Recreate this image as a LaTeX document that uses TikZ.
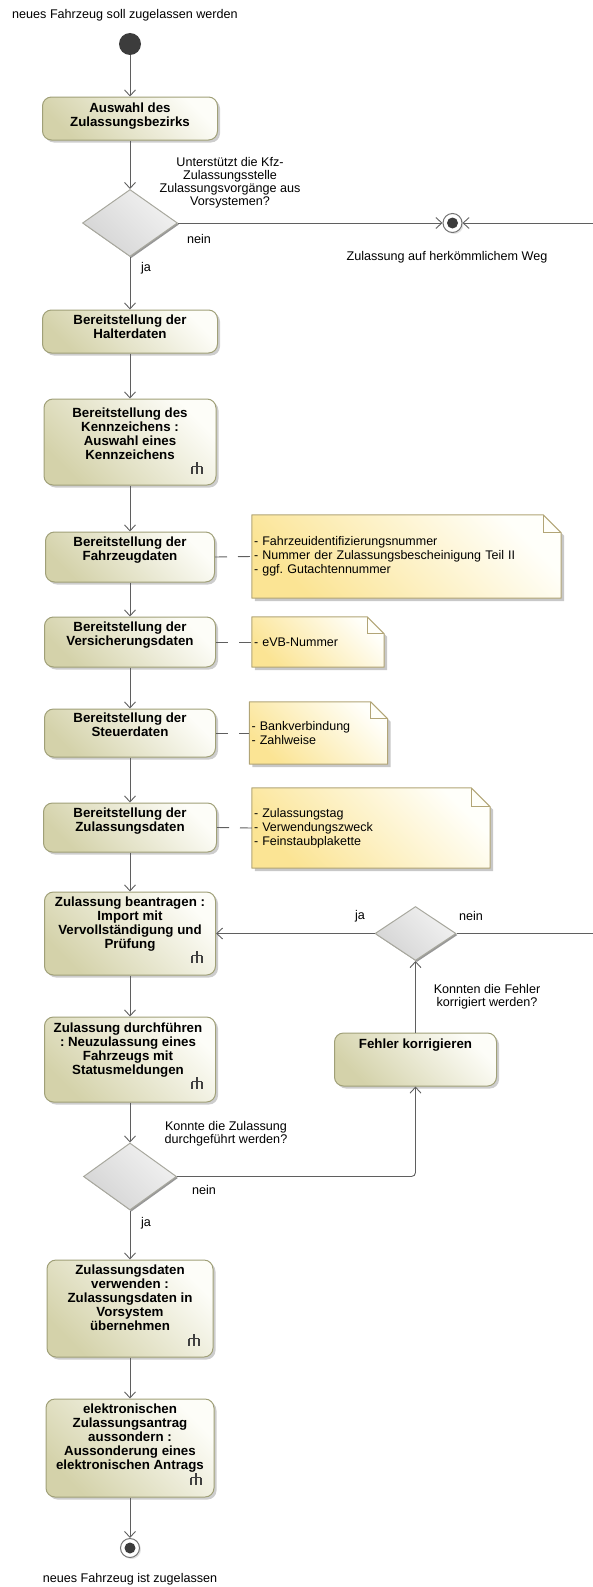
\documentclass[tikz,border=0pt]{standalone}
\usepackage{fontspec}
\setmainfont{Liberation Sans}
\usetikzlibrary{arrows.meta,shapes.geometric,shadows,backgrounds,calc}
\frenchspacing

\definecolor{actdark}{RGB}{212,210,170}
\definecolor{actlight}{RGB}{253,253,248}
\definecolor{actborder}{RGB}{160,160,120}
\definecolor{notedark}{RGB}{251,228,148}
\definecolor{notelight}{RGB}{255,255,250}
\definecolor{noteborder}{RGB}{178,165,118}
\definecolor{decdark}{RGB}{212,212,212}
\definecolor{declight}{RGB}{242,242,242}
\definecolor{decborder}{RGB}{168,168,158}
\definecolor{flow}{RGB}{95,95,95}
\definecolor{shadowgray}{RGB}{200,200,200}
\definecolor{dotdark}{RGB}{60,60,60}

\tikzset{
  act/.style={draw=actborder, line width=1pt, rounded corners=9pt, inner sep=0pt,
    top color=actlight, bottom color=actdark, shading angle=-45,
    drop shadow={shadow xshift=2.5pt, shadow yshift=-2.5pt, fill=shadowgray, opacity=0.9}},
  acttxt/.style={font=\fontsize{13.3}{14}\selectfont\bfseries, align=center, inner sep=0pt, anchor=north},
  lbl/.style={font=\fontsize{12.6}{13}\selectfont, inner sep=0pt, align=center},
  notebox/.style={font=\fontsize{12.5}{14}\selectfont, align=left, inner xsep=2pt, inner ysep=0pt},
  dec/.style={diamond, draw=decborder, line width=1pt, inner sep=0pt,
    top color=declight, bottom color=decdark, shading angle=-45,
    drop shadow={shadow xshift=1.5pt, shadow yshift=-1.5pt, fill=black!45, opacity=0.9}},
  startnode/.style={circle, fill=dotdark, minimum size=22pt, inner sep=0pt},
  finalnode/.style={circle, draw=black!55, fill=white, line width=1pt, minimum size=19pt, inner sep=0pt,
    drop shadow={shadow xshift=1.5pt, shadow yshift=-1.5pt, fill=shadowgray},
    path picture={\fill[dotdark] (path picture bounding box.center) circle (5.5pt);}},
  flowarrow/.style={draw=flow, line width=0.9pt, -{Straight Barb[length=6pt,width=11pt]}},
  flowline/.style={draw=flow, line width=0.9pt},
  noteline/.style={draw=flow, line width=0.9pt, dash pattern=on 12pt off 11pt},
  rakeline/.style={draw=black!75, line width=1.4pt},
  rake/.pic={\draw[rakeline] (0,-6)--(0,-1.5) (-5,-1.5)--(5,-1.5) (-5,-1.5)--(-5,6) (0,-1.5)--(0,6) (5,-1.5)--(5,6);}
}

\newcommand{\drawnote}[2]{%
  \begin{scope}[on background layer]
    \fill[shadowgray] ([shift={(3,3)}]#1.south west) -- ([shift={(3,3)}]#1.north west) -- ([shift={(3-#2,3)}]#1.north east) -- ([shift={(3,3+#2)}]#1.north east) -- ([shift={(3,3)}]#1.south east) -- cycle;
    \shade[top color=notelight, bottom color=notedark, shading angle=-45] (#1.south west) -- (#1.north west) -- ([shift={(-#2,0)}]#1.north east) -- ([shift={(0,#2)}]#1.north east) -- (#1.south east) -- cycle;
    \draw[noteborder, line width=1pt, line join=round] (#1.south west) -- (#1.north west) -- ([shift={(-#2,0)}]#1.north east) -- ([shift={(0,#2)}]#1.north east) -- (#1.south east) -- cycle;
    \draw[noteborder, line width=1pt] ([shift={(-#2,0)}]#1.north east) |- ([shift={(0,#2)}]#1.north east);
  \end{scope}}

\begin{document}
\begin{tikzpicture}[x=1pt,y=-1pt]
\useasboundingbox (0,0) rectangle (593,1587);

% title and start
\node[lbl, anchor=west] (title) at (12,15) {neues Fahrzeug soll zugelassen werden};
\node[startnode] (start) at (130,44) {};

% action boxes
\node[act, minimum width=175pt, minimum height=43pt] (b1) at (130,118.5) {};
\node[acttxt] (b1t) at (130,102.5) {Auswahl des\\Zulassungsbezirks};

\node[dec, minimum width=95pt, minimum height=67pt] (d1) at (130,223) {};
\node[lbl] (q1) at (230,182.5) {Unterstützt die Kfz-\\Zulassungsstelle\\Zulassungsvorgänge aus\\Vorsystemen?};
\node[lbl] (nein1) at (199,239) {nein};
\node[lbl] (ja1) at (146,268) {ja};

\node[finalnode] (ff1) at (452.5,223) {};
\node[lbl] (ff1t) at (447,257) {Zulassung auf herkömmlichem Weg};
\coordinate (r1) at (593,223);

\node[act, minimum width=175pt, minimum height=43pt] (b2) at (130,331.5) {};
\node[acttxt] (b2t) at (130,314.5) {Bereitstellung der\\Halterdaten};

\node[act, minimum width=172pt, minimum height=86pt] (b3) at (130,442) {};
\node[acttxt] (b3t) at (130,407.5) {Bereitstellung des\\Kennzeichens :\\Auswahl eines\\Kennzeichens};
\pic at (197,468) {rake};

\node[act, minimum width=169pt, minimum height=50pt] (b4) at (130,557) {};
\node[acttxt] (b4t) at (130,536.5) {Bereitstellung der\\Fahrzeugdaten};

\node[act, minimum width=171pt, minimum height=50pt] (b5) at (130,642) {};
\node[acttxt] (b5t) at (130,621.5) {Bereitstellung der\\Versicherungsdaten};

\node[act, minimum width=171pt, minimum height=48pt] (b6) at (130,733) {};
\node[acttxt] (b6t) at (130,712.5) {Bereitstellung der\\Steuerdaten};

\node[act, minimum width=173pt, minimum height=49pt] (b7) at (130,827.5) {};
\node[acttxt] (b7t) at (130,807.5) {Bereitstellung der\\Zulassungsdaten};

\node[act, minimum width=171pt, minimum height=83pt] (b8) at (130,933.5) {};
\node[acttxt] (b8t) at (130,896.5) {Zulassung beantragen :\\Import mit\\Vervollständigung und\\Prüfung};
\pic at (197,957) {rake};

\node[act, minimum width=171pt, minimum height=85pt] (b9) at (130,1059.5) {};
\node[acttxt] (b9t) at (128,1022.5) {Zulassung durchführen\\: Neuzulassung eines\\Fahrzeugs mit\\Statusmeldungen};
\pic at (197,1083) {rake};

\node[dec, minimum width=81pt, minimum height=54pt] (d2) at (415.5,933.5) {};
\node[lbl] (ja2) at (360,916) {ja};
\node[lbl] (nein2) at (471,916) {nein};
\coordinate (r2) at (593,933.5);
\node[lbl] (q2) at (487,996.5) {Konnten die Fehler\\korrigiert werden?};

\node[act, minimum width=162pt, minimum height=53pt] (fk) at (415.5,1059.5) {};
\node[acttxt] (fkt) at (415.5,1038.5) {Fehler korrigieren};

\node[dec, minimum width=93pt, minimum height=67pt] (d3) at (130,1176.5) {};
\node[lbl] (q3) at (226,1134) {Konnte die Zulassung\\durchgeführt werden?};
\node[lbl] (nein3) at (204,1190) {nein};
\node[lbl] (ja3) at (146,1223) {ja};

\node[act, minimum width=166pt, minimum height=97pt] (b10) at (130,1308.5) {};
\node[acttxt] (b10t) at (130,1264.5) {Zulassungsdaten\\verwenden :\\Zulassungsdaten in\\Vorsystem\\übernehmen};
\pic at (194,1340) {rake};

\node[act, minimum width=168pt, minimum height=98pt] (b11) at (130,1448) {};
\node[acttxt] (b11t) at (130,1403.5) {elektronischen\\Zulassungsantrag\\aussondern :\\Aussonderung eines\\elektronischen Antrags};
\pic at (196,1479) {rake};

\node[finalnode] (fin) at (130,1548) {};
\node[lbl] (fint) at (130,1579) {neues Fahrzeug ist zugelassen};

% notes
\node[notebox, text width=305pt, minimum height=83pt] (n1) at (406.5,556.5) {- Fahrzeuidentifizierungsnummer\\- Nummer der Zulassungsbescheinigung Teil II\\- ggf. Gutachtennummer};
\drawnote{n1}{18}
\node[notebox, text width=128pt, minimum height=50pt] (n2) at (318,642) {- eVB-Nummer};
\drawnote{n2}{17}
\node[notebox, text width=134pt, minimum height=62pt] (n3) at (318.5,733) {- Bankverbindung\\- Zahlweise};
\drawnote{n3}{17}
\node[notebox, text width=234pt, minimum height=80pt] (n4) at (371,828) {- Zulassungstag\\- Verwendungszweck\\- Feinstaubplakette};
\drawnote{n4}{19}

% connectors
\draw[flowarrow] (start) -- (b1);
\draw[flowarrow] (b1) -- (d1);
\draw[flowarrow] (d1.south) -- (b2.north);
\draw[flowarrow] (d1.east) -- (ff1.west);
\draw[flowarrow] (r1) -- (ff1.east);
\draw[flowarrow] (b2) -- (b3);
\draw[flowarrow] (b3) -- (b4);
\draw[flowarrow] (b4) -- (b5);
\draw[flowarrow] (b5) -- (b6);
\draw[flowarrow] (b6) -- (b7);
\draw[flowarrow] (b7) -- (b8);
\draw[flowarrow] (b8) -- (b9);
\draw[flowarrow] (b9) -- (d3);
\draw[flowarrow] (d3.south) -- (b10.north);
\draw[flowarrow] (b10) -- (b11);
\draw[flowarrow] (b11) -- (fin);
\draw[flowarrow, rounded corners=4pt] (d3.east) -| (fk.south);
\draw[flowarrow] (fk.north) -- (d2.south);
\draw[flowarrow] (d2.west) -- (b8.east);
\draw[flowline] (d2.east) -- (r2);

\draw[noteline] (b4.east) -- (n1.west);
\draw[noteline] (b5.east) -- (n2.west);
\draw[noteline] (b6.east) -- (n3.west);
\draw[noteline] (b7.east) -- (n4.west);
\end{tikzpicture}
\end{document}
